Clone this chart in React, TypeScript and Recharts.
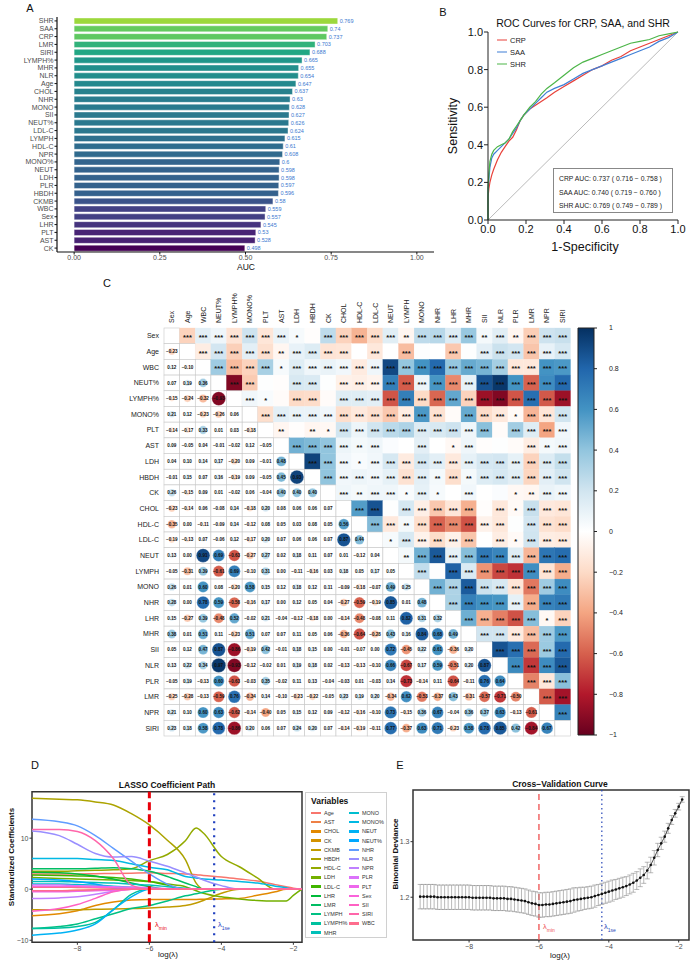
import React from 'react'
import {
  BarChart, Bar, Cell, LabelList, XAxis, YAxis, LineChart, Line, ReferenceLine,
  ReferenceArea, ScatterChart, Scatter, ComposedChart, ErrorBar,
} from 'recharts'

const FONT = '"Liberation Sans", Arial, Helvetica, sans-serif'
const MINUS = '\u2212'

// ---- A: single-marker AUC ----
const aucVars = ['SHR', 'SAA', 'CRP', 'LMR', 'SIRI', 'LYMPH%', 'MHR', 'NLR', 'Age', 'CHOL', 'NHR', 'MONO', 'SII', 'NEUT%', 'LDL-C', 'LYMPH', 'HDL-C', 'NPR', 'MONO%', 'NEUT', 'LDH', 'PLR', 'HBDH', 'CKMB', 'WBC', 'Sex', 'LHR', 'PLT', 'AST', 'CK']
const aucValues = [0.769, 0.74, 0.737, 0.703, 0.688, 0.665, 0.655, 0.654, 0.647, 0.637, 0.63, 0.628, 0.627, 0.626, 0.624, 0.615, 0.61, 0.608, 0.6, 0.598, 0.598, 0.597, 0.596, 0.58, 0.559, 0.557, 0.545, 0.53, 0.528, 0.498]
const aucTicks = [0, 0.25, 0.5, 0.75, 1]

// ---- B: ROC curves ----
const rocFpr = [0, 0, 0.005, 0.01, 0.02, 0.03, 0.05, 0.07, 0.09, 0.11, 0.13, 0.15, 0.17, 0.19, 0.22, 0.25, 0.28, 0.31, 0.35, 0.4, 0.45, 0.5, 0.55, 0.6, 0.65, 0.7, 0.75, 0.8, 0.85, 0.9, 0.95, 1]
const rocCRP = [0, 0.12, 0.17, 0.2, 0.24, 0.27, 0.32, 0.36, 0.39, 0.42, 0.44, 0.48, 0.53, 0.56, 0.59, 0.61, 0.63, 0.65, 0.68, 0.71, 0.74, 0.77, 0.8, 0.82, 0.85, 0.87, 0.9, 0.92, 0.94, 0.96, 0.98, 1]
const rocSAA = [0, 0.15, 0.22, 0.28, 0.33, 0.35, 0.37, 0.39, 0.41, 0.43, 0.46, 0.49, 0.53, 0.56, 0.59, 0.62, 0.65, 0.68, 0.7, 0.72, 0.75, 0.78, 0.8, 0.82, 0.84, 0.86, 0.88, 0.9, 0.92, 0.95, 0.97, 1]
const rocSHR = [0, 0.17, 0.25, 0.31, 0.35, 0.37, 0.39, 0.4, 0.41, 0.43, 0.47, 0.5, 0.53, 0.56, 0.6, 0.63, 0.67, 0.7, 0.73, 0.77, 0.81, 0.84, 0.86, 0.88, 0.9, 0.92, 0.94, 0.95, 0.96, 0.98, 0.99, 1]
const rocNames = ['CRP', 'SAA', 'SHR']
const rocColors = ['#e8413a', '#3f7fd6', '#4cb548']
const rocAucText = ['CRP AUC: 0.737 ( 0.716 \u2212 0.758 )', 'SAA AUC: 0.740 ( 0.719 \u2212 0.760 )', 'SHR AUC: 0.769 ( 0.749 \u2212 0.789 )']
const rocTicks = [0, 0.2, 0.4, 0.6, 0.8, 1]

// ---- C: correlation matrix (lower triangle, row by row) ----
const corrVars = ['Sex', 'Age', 'WBC', 'NEUT%', 'LYMPH%', 'MONO%', 'PLT', 'AST', 'LDH', 'HBDH', 'CK', 'CHOL', 'HDL-C', 'LDL-C', 'NEUT', 'LYMPH', 'MONO', 'NHR', 'LHR', 'MHR', 'SII', 'NLR', 'PLR', 'LMR', 'NPR', 'SIRI']
const corrRows = [
  [],
  [-0.23],
  [0.12, -0.10],
  [0.07, 0.19, 0.36],
  [-0.15, -0.24, -0.32, -0.93],
  [0.21, 0.12, -0.23, -0.26, 0.06],
  [-0.14, -0.17, 0.33, 0.01, 0.03, -0.18],
  [0.09, -0.05, 0.04, -0.01, -0.02, 0.12, -0.05],
  [0.04, 0.10, 0.14, 0.17, -0.20, 0.09, -0.01, 0.48],
  [-0.01, 0.15, 0.07, 0.16, -0.19, 0.09, -0.05, 0.45, 0.93],
  [0.26, -0.15, 0.09, 0.01, -0.02, 0.06, -0.04, 0.40, 0.40, 0.40],
  [-0.23, -0.14, 0.06, -0.08, 0.14, -0.18, 0.20, 0.08, 0.06, 0.06, 0.07],
  [-0.35, 0.00, -0.11, -0.09, 0.14, -0.12, 0.08, 0.05, 0.03, 0.08, 0.05, 0.56],
  [-0.19, -0.13, 0.07, -0.06, 0.12, -0.17, 0.20, 0.07, 0.06, 0.06, 0.07, 0.87, 0.44],
  [0.13, 0.00, 0.91, 0.69, -0.63, -0.27, 0.27, 0.02, 0.18, 0.11, 0.07, 0.01, -0.12, 0.04],
  [-0.05, -0.31, 0.39, -0.61, 0.69, -0.10, 0.31, 0.00, -0.11, -0.16, 0.03, 0.18, 0.05, 0.17, 0.05],
  [0.26, 0.01, 0.60, 0.08, -0.20, 0.58, 0.15, 0.12, 0.18, 0.12, 0.11, -0.09, -0.18, -0.07, 0.49, 0.25],
  [0.28, 0.00, 0.78, 0.59, -0.58, -0.16, 0.17, 0.00, 0.12, 0.05, 0.04, -0.27, -0.59, -0.19, 0.85, 0.01, 0.48],
  [0.15, -0.27, 0.39, -0.48, 0.52, -0.02, 0.21, -0.04, -0.12, -0.18, 0.00, -0.14, -0.48, -0.08, 0.11, 0.82, 0.31, 0.32],
  [0.38, 0.01, 0.51, 0.11, -0.23, 0.51, 0.07, 0.07, 0.11, 0.05, 0.06, -0.36, -0.64, -0.28, 0.43, 0.16, 0.84, 0.68, 0.49],
  [0.05, 0.12, 0.47, 0.87, -0.86, -0.19, 0.42, -0.01, 0.18, 0.15, 0.00, -0.01, -0.07, 0.00, 0.72, -0.45, 0.22, 0.61, -0.36, 0.20],
  [0.13, 0.22, 0.34, 0.97, -0.93, -0.12, -0.02, 0.01, 0.19, 0.18, 0.02, -0.13, -0.13, -0.10, 0.66, -0.67, 0.17, 0.59, -0.51, 0.20, 0.87],
  [-0.05, 0.19, -0.13, 0.60, -0.63, -0.03, 0.35, -0.02, 0.11, 0.13, -0.04, -0.03, 0.01, -0.03, 0.14, -0.73, -0.14, 0.11, -0.64, -0.11, 0.76, 0.64],
  [-0.25, -0.28, -0.13, -0.59, 0.76, -0.34, 0.14, -0.10, -0.23, -0.22, -0.05, 0.23, 0.19, 0.20, -0.34, 0.62, -0.53, -0.37, 0.43, -0.31, -0.57, -0.71, -0.50],
  [0.21, 0.10, 0.60, 0.63, -0.62, -0.14, -0.40, 0.05, 0.15, 0.12, 0.09, -0.12, -0.16, -0.10, 0.73, -0.15, 0.36, 0.67, -0.04, 0.36, 0.37, 0.63, -0.13, -0.61],
  [0.23, 0.18, 0.58, 0.78, -0.86, 0.20, 0.06, 0.07, 0.24, 0.20, 0.07, -0.14, -0.19, -0.11, 0.77, -0.37, 0.63, 0.71, -0.23, 0.58, 0.78, 0.85, 0.42, -0.84, 0.67],
]
const cbTicks = [1, 0.8, 0.6, 0.4, 0.2, 0, -0.2, -0.4, -0.6, -0.8, -1]

// ---- D: LASSO coefficient paths ----
const lassoVars = ['Age', 'AST', 'CHOL', 'CK', 'CKMB', 'HBDH', 'HDL-C', 'LDH', 'LDL-C', 'LHR', 'LMR', 'LYMPH', 'LYMPH%', 'MHR', 'MONO', 'MONO%', 'NEUT', 'NEUT%', 'NHR', 'NLR', 'NPR', 'PLR', 'PLT', 'Sex', 'SII', 'SIRI', 'WBC']
const lassoLambda = [-9.26, -8.5, -8, -7.5, -7, -6.5, -6, -5.5, -5, -4.7, -4.5, -4, -3.5, -3, -2.5, -2.2, -2, -1.76]
const lassoCoefs = [
  [3.0, 3.0, 3.0, 3.05, 3.1, 3.15, 3.2, 3.1, 3.0, 2.85, 2.7, 2.4, 2.0, 1.6, 0.9, 0.5, 0.2, 0],
  [0.4, 0.4, 0.35, 0.3, 0.2, 0.1, 0, 0, 0, 0, 0, 0, 0, 0, 0, 0, 0, 0],
  [-5.2, -4.8, -4.2, -3.2, -2.5, -2.1, -2.0, -2.0, -2.0, -2.0, -1.95, -1.9, -1.8, -1.2, -0.5, 0, 0, 0],
  [-0.3, -0.3, -0.25, -0.2, -0.1, 0, 0, 0, 0, 0, 0, 0, 0, 0, 0, 0, 0, 0],
  [-4.0, -4.0, -4.0, -3.95, -3.9, -3.8, -3.7, -3.5, -3.2, -2.7, -2.2, -0.8, 0, 0, 0, 0, 0, 0],
  [17.8, 17.6, 17.5, 17.1, 16.5, 14.8, 12.6, 9.6, 5.8, 1.2, 0, 0, 0, 0, 0, 0, 0, 0],
  [3.5, 3.5, 3.6, 3.7, 3.8, 4.0, 5.6, 6.8, 9.5, 12.0, 11.0, 6.4, 4.4, 2.2, 0, 0, 0, 0],
  [2.3, 2.1, 2.0, 1.9, 1.8, 1.7, 1.5, 1.0, 0.5, -0.3, -0.8, -1.5, -1.9, -2.2, -2.3, -2.3, -1.2, 0],
  [2.8, 2.7, 2.6, 2.5, 2.3, 2.0, 1.5, 0.8, 0, 0, 0, 0, 0, 0, 0, 0, 0, 0],
  [3.3, 3.2, 3.0, 2.6, 2.0, 1.2, 0.5, 0, 0, 0, 0, 0, 0, 0, 0, 0, 0, 0],
  [4.0, 4.0, 4.0, 4.1, 4.2, 4.0, 3.5, 2.5, 1.2, 0.5, 0, 0, 0, 0, 0, 0, 0, 0],
  [-7.7, -7.3, -6.8, -5.8, -4.8, -3.8, -3.2, -2.3, -1.3, -0.9, -0.6, 0, 0, 0, 0, 0, 0, 0],
  [-7.7, -7.6, -7.3, -6.5, -4.0, -1.0, 0, 0, 0, 0, 0, 0, 0, 0, 0, 0, 0, 0],
  [1.5, 1.5, 1.4, 1.3, 1.2, 1.0, 0.8, 0.5, 0.2, 0, 0, 0, 0, 0, 0, 0, 0, 0],
  [1.0, 1.0, 0.9, 0.8, 0.6, 0.4, 0.2, 0, 0, 0, 0, 0, 0, 0, 0, 0, 0, 0],
  [6.0, 6.0, 6.0, 5.8, 5.6, 5.0, 4.3, 3.8, 2.5, 2.2, 2.0, 1.8, 1.5, 1.2, 0.6, 0.3, 0, 0],
  [-9.0, -8.6, -8.0, -6.8, -4.0, -1.5, 0, 0, 0, 0, 0, 0, 0, 0, 0, 0, 0, 0],
  [2.0, 1.8, 1.5, 1.0, 0.3, 0, 0, 0, 0, 0, 0, 0, 0, 0, 0, 0, 0, 0],
  [13.7, 13.2, 12.4, 10.5, 8.0, 5.5, 3.0, 1.0, 0, 0, 0, 0, 0, 0, 0, 0, 0, 0],
  [11.4, 10.5, 8.8, 7.0, 6.3, 6.4, 5.5, 4.5, 3.2, 2.4, 1.8, 0.7, 0, 0, 0, 0, 0, 0],
  [-1.8, -1.7, -1.5, -1.0, -0.4, 0, 0, 0, 0, 0, 0, 0, 0, 0, 0, 0, 0, 0],
  [0.8, 0.8, 0.7, 0.6, 0.5, 0.4, 0.3, 0.1, 0, 0, 0, 0, 0, 0, 0, 0, 0, 0],
  [-0.5, -0.5, -0.4, -0.3, -0.2, 0, 0, 0, 0, 0, 0, 0, 0, 0, 0, 0, 0, 0],
  [0.5, 0.5, 0.5, 0.4, 0.3, 0.2, 0.1, 0, 0, 0, 0, 0, 0, 0, 0, 0, 0, 0],
  [-4.3, -3.8, -3.0, -1.8, -0.5, 0, 0, 0, 0, 0, 0, 0, 0, 0, 0, 0, 0, 0],
  [11.7, 11.7, 11.3, 9.5, 6.0, 0.8, 0, 0, 0, 0, 0, 0, 0, 0, 0, 0, 0, 0],
  [-0.3, -0.3, -0.2, -0.1, 0, 0, 0, 0, 0, 0, 0, 0, 0, 0, 0, 0, 0, 0],
]
const lambdaMin = -6
const lambda1se = -4.2

// ---- E: cross-validation deviance ----
const cvLambda = [-9.4, -9.3, -9.2, -9.1, -9.0, -8.9, -8.8, -8.7, -8.6, -8.5, -8.4, -8.3, -8.2, -8.1, -8.0, -7.9, -7.8, -7.7, -7.6, -7.5, -7.4, -7.3, -7.2, -7.1, -7.0, -6.9, -6.8, -6.7, -6.6, -6.5, -6.4, -6.3, -6.2, -6.1, -6.0, -5.9, -5.8, -5.7, -5.6, -5.5, -5.4, -5.3, -5.2, -5.1, -5.0, -4.9, -4.8, -4.7, -4.6, -4.5, -4.4, -4.3, -4.2, -4.1, -4.0, -3.9, -3.8, -3.7, -3.6, -3.5, -3.4, -3.3, -3.2, -3.1, -3.0, -2.9, -2.8, -2.7, -2.6, -2.5, -2.4, -2.3, -2.2, -2.1, -2.0, -1.9]
const cvDeviance = [
  1.201, 1.201, 1.201, 1.201, 1.201, 1.200, 1.200, 1.200, 1.200, 1.200, 1.200, 1.200, 1.200, 1.200, 1.200, 1.199, 1.199, 1.199, 1.199, 1.199, 1.199, 1.198, 1.198, 1.198, 1.198,
  1.197, 1.197, 1.196, 1.195, 1.194, 1.193, 1.191, 1.189, 1.188, 1.186,
  1.186, 1.187, 1.187, 1.188, 1.189, 1.190, 1.191, 1.192, 1.193, 1.195,
  1.196, 1.197, 1.198, 1.199, 1.200, 1.202, 1.204, 1.206, 1.208, 1.210,
  1.212, 1.214, 1.216, 1.218, 1.220, 1.223, 1.226, 1.230, 1.235, 1.240,
  1.248, 1.258, 1.271, 1.285, 1.297, 1.309, 1.324, 1.339, 1.351, 1.363, 1.376,
]
const cvSe = [
  0.022, 0.022, 0.022, 0.022, 0.022, 0.022, 0.022, 0.022, 0.022, 0.022, 0.022, 0.022, 0.022, 0.022, 0.022, 0.022, 0.022, 0.022, 0.022, 0.022, 0.022, 0.022, 0.022, 0.022, 0.022,
  0.022, 0.022, 0.022, 0.022, 0.022, 0.022, 0.022, 0.022, 0.022, 0.022,
  0.022, 0.022, 0.022, 0.022, 0.022, 0.022, 0.022, 0.022, 0.022, 0.022,
  0.021, 0.021, 0.020, 0.020, 0.020, 0.020, 0.019, 0.019, 0.019, 0.019,
  0.019, 0.018, 0.018, 0.018, 0.017, 0.017, 0.017, 0.016, 0.016, 0.015,
  0.015, 0.014, 0.013, 0.012, 0.011, 0.010, 0.009, 0.008, 0.007, 0.006, 0.005,
]

// ---- colour helpers ----
const VIRIDIS = ['#440154', '#482475', '#414487', '#355f8d', '#2a788e', '#21918c', '#22a884', '#44bf70', '#7ad151', '#bddf26', '#fde725']
const RDBU = ['#67001f', '#b2182b', '#d6604d', '#f4a582', '#fddbc7', '#ffffff', '#d1e5f0', '#92c5de', '#4393c3', '#2166ac', '#053061']

const hexRgb = (h: string) => [1, 3, 5].map(i => parseInt(h.slice(i, i + 2), 16))
const toHex = (c: number[]) => '#' + c.map(v => Math.round(Math.max(0, Math.min(255, v))).toString(16).padStart(2, '0')).join('')

function ramp(stops: string[], t: number) {
  const tt = Math.max(0, Math.min(1, t)) * (stops.length - 1)
  const i = Math.min(Math.floor(tt), stops.length - 2)
  const f = tt - i
  const a = hexRgb(stops[i]), b = hexRgb(stops[i + 1])
  return toHex(a.map((v, k) => v + (b[k] - v) * f))
}

const corrColor = (r: number) => ramp(RDBU, (r + 1) / 2)

// ggplot-style hue palette (HCL, c = 100, l = 65)
function hcl(h: number, c = 100, l = 65) {
  const hr = (h * Math.PI) / 180
  const U = c * Math.cos(hr), V = c * Math.sin(hr)
  const Y = Math.pow((l + 16) / 116, 3)
  const un = 0.19784, vn = 0.46834
  const u = U / (13 * l) + un, v = V / (13 * l) + vn
  const X = (Y * 9 * u) / (4 * v)
  const Z = (Y * (12 - 3 * u - 20 * v)) / (4 * v)
  const lin = [
    3.2404542 * X - 1.5371385 * Y - 0.4985314 * Z,
    -0.969266 * X + 1.8760108 * Y + 0.041556 * Z,
    0.0556434 * X - 0.2040259 * Y + 1.0572252 * Z,
  ]
  const g = lin.map(x => (x <= 0.0031308 ? 12.92 * x : 1.055 * Math.pow(Math.max(x, 0), 1 / 2.4) - 0.055))
  return toHex(g.map(x => x * 255))
}
const lassoColors = lassoVars.map((_, i) => hcl(15 + (360 * i) / lassoVars.length))

const signed = (v: number, d?: number) => (v < 0 ? MINUS : '') + (d == null ? String(Math.abs(v)) : Math.abs(v).toFixed(d))

function starsFor(r: number) {
  const a = Math.abs(r)
  if (a >= 0.06) return '***'
  if (a >= 0.045) return '**'
  if (a >= 0.03) return '*'
  return ''
}

// ---- derived tables ----
const aucData = aucVars.map((name, i) => ({ name, auc: aucValues[i] }))
const aucMin = Math.min(...aucValues)
const aucMax = Math.max(...aucValues)
const rocSeries = [rocCRP, rocSAA, rocSHR].map((tpr, s) => ({
  name: rocNames[s], color: rocColors[s], data: rocFpr.map((fpr, i) => ({ fpr, tpr: tpr[i] })),
}))
const corrValue = (i: number, j: number) => (i === j ? 1 : i > j ? corrRows[i][j] : corrRows[j][i])
const corrCells: any[] = []
corrVars.forEach((_, i) => corrVars.forEach((__, j) => {
  corrCells.push({ x: j, y: i, r: corrValue(i, j), part: i === j ? 'diag' : j > i ? 'upper' : 'lower' })
}))
const corrIdx = corrVars.map((_, i) => i)
const lassoData = lassoLambda.map((x, k) => {
  const row: any = { x }
  lassoVars.forEach((v, vi) => { row[v] = lassoCoefs[vi][k] })
  return row
})
const cvData = cvLambda.map((x, i) => ({ x, dev: cvDeviance[i], se: cvSe[i] }))

// ---- small layout helpers ----
function Txt({ x, y, size, children, bold, color = '#111', rotate, anchor = 'middle' }: any) {
  const tx = anchor === 'middle' ? '-50%' : anchor === 'end' ? '-100%' : '0'
  return (
    <div style={{
      position: 'absolute', left: x, top: y, whiteSpace: 'nowrap', fontSize: size, lineHeight: 1,
      fontWeight: bold ? 'bold' : 'normal', color,
      transform: `translate(${tx}, -50%)${rotate ? ` rotate(${rotate}deg)` : ''}`,
      transformOrigin: rotate ? '50% 50%' : undefined,
    }}>{children}</div>
  )
}

const Abs = ({ x, y, children }: any) => <div style={{ position: 'absolute', left: x, top: y }}>{children}</div>

const Lambda = ({ x, y, sub, color }: any) => (
  <div style={{ position: 'absolute', left: x, top: y, color, fontSize: 7.5, lineHeight: 1, whiteSpace: 'nowrap' }}>
    λ<sub style={{ fontSize: 5, verticalAlign: 'sub' }}>{sub}</sub>
  </div>
)

// ---- panels ----
function AucBars() {
  return (
    <BarChart width={440} height={275} data={aucData} layout="vertical" margin={{ top: 17, right: 6, bottom: 8, left: 0 }}>
      <XAxis type="number" domain={[-0.05, 1.05]} ticks={aucTicks} tickFormatter={(v: number) => v.toFixed(2)} height={15}
        tick={{ fontSize: 7, fill: '#4d4d4d' }} tickSize={2.5} tickMargin={1}
        axisLine={{ stroke: '#111', strokeWidth: 1.2 }} tickLine={{ stroke: '#111' }} />
      <YAxis type="category" dataKey="name" width={57} interval={0} tick={{ fontSize: 7, fill: '#4d4d4d' }} tickSize={2.5} tickMargin={1}
        axisLine={{ stroke: '#111', strokeWidth: 1.2 }} tickLine={{ stroke: '#111' }} />
      <Bar dataKey="auc" barSize={6} isAnimationActive={false} stroke="#fff" strokeWidth={0.4}>
        {aucData.map((d, i) => (
          <Cell key={i} fill={ramp(VIRIDIS, ((d.auc - aucMin) / (aucMax - aucMin)) * 0.85)} />
        ))}
        <LabelList dataKey="auc" position="right" offset={2} fontSize={5.5} fill="#3b78d0" />
      </Bar>
    </BarChart>
  )
}

function RocCurves() {
  return (
    <LineChart width={251} height={260} margin={{ top: 32, right: 13, bottom: 12, left: 8 }}>
      <XAxis type="number" dataKey="fpr" domain={[0, 1]} ticks={rocTicks} tickFormatter={(v: number) => v.toFixed(1)}
        height={28} allowDuplicatedCategory={false} tick={{ fontSize: 11, fill: '#111' }} tickSize={4} tickMargin={1}
        axisLine={{ stroke: '#222' }} tickLine={{ stroke: '#222' }} />
      <YAxis type="number" dataKey="tpr" domain={[0, 1]} ticks={rocTicks} tickFormatter={(v: number) => v.toFixed(1)}
        width={40} tick={{ fontSize: 11, fill: '#111' }} tickSize={4} tickMargin={1}
        axisLine={{ stroke: '#222' }} tickLine={{ stroke: '#222' }} />
      <ReferenceLine segment={[{ x: 0, y: 0 }, { x: 1, y: 1 }]} stroke="#a8a8a8" strokeWidth={0.8} />
      {rocSeries.map(s => (
        <Line key={s.name} data={s.data} dataKey="tpr" name={s.name} type="linear" stroke={s.color}
          strokeWidth={1.2} dot={false} isAnimationActive={false} />
      ))}
    </LineChart>
  )
}

const CELL_W = 406.5 / 26
const CELL_H = 408 / 26

function CorrCell(props: any) {
  const { cx, cy, payload } = props
  if (cx == null || cy == null) return null
  const { r, part } = payload
  const x = cx - CELL_W / 2
  const y = cy - CELL_H / 2
  if (part === 'upper') {
    const stars = starsFor(r)
    const fill = corrColor(r)
    return (
      <g>
        <rect x={x} y={y} width={CELL_W} height={CELL_H} fill={fill} stroke={fill} strokeWidth={0.3} />
        {stars && (
          <text x={cx} y={cy + 4.2} textAnchor="middle" fontSize={7.5} fontWeight="bold" fill="#111">{stars}</text>
        )}
      </g>
    )
  }
  if (part === 'diag') {
    return <rect x={x} y={y} width={CELL_W} height={CELL_H} fill="#fff" stroke="#c8c8c8" strokeWidth={0.6} />
  }
  return (
    <g>
      <rect x={x} y={y} width={CELL_W} height={CELL_H} fill="#fff" stroke="#c8c8c8" strokeWidth={0.6} />
      <circle cx={cx} cy={cy} r={Math.sqrt(Math.abs(r)) * 7.2} fill={corrColor(r)} stroke="#fff" strokeWidth={0.3} />
      <text x={cx} y={cy} dy="0.35em" textAnchor="middle" fontSize={4.6} fontWeight="bold" fill="#111">{signed(r, 2)}</text>
    </g>
  )
}

const ColumnTick = ({ x, y, payload }: any) => (
  <text x={x} y={y} transform={`rotate(-90 ${x} ${y})`} dy="0.35em" textAnchor="start" fontSize={7} fill="#222">
    {corrVars[payload.value]}
  </text>
)

function CorrMatrix() {
  return (
    <ScatterChart width={540} height={465} margin={{ top: 3, right: 69.5, bottom: 9, left: 14 }}>
      <XAxis type="number" dataKey="x" orientation="top" domain={[-0.5, 25.5]} ticks={corrIdx} interval={0} height={45}
        axisLine={false} tickLine={false} tickSize={3} tick={<ColumnTick />} />
      <YAxis type="number" dataKey="y" reversed domain={[-0.5, 25.5]} ticks={corrIdx} interval={0} width={50}
        axisLine={false} tickLine={false} tickSize={3} tickMargin={2}
        tick={{ fontSize: 7, fill: '#222' }} tickFormatter={(i: number) => corrVars[i]} />
      <Scatter data={corrCells} shape={(p: any) => <CorrCell {...p} />} isAnimationActive={false} />
    </ScatterChart>
  )
}

function ColorBar() {
  return (
    <ComposedChart width={70} height={435} data={cbTicks.map(v => ({ x: 0.5, v }))} margin={{ top: 13, right: 6, bottom: 15, left: 8 }}>
      <XAxis type="number" dataKey="x" domain={[0, 1]} hide />
      <YAxis type="number" dataKey="v" orientation="right" domain={[-1, 1]} ticks={cbTicks} interval={0} width={40}
        axisLine={false} tickLine={{ stroke: '#222' }} tickSize={3} tickMargin={12}
        tick={{ fontSize: 7, fill: '#222' }} tickFormatter={(v: number) => signed(v)} />
      <ReferenceArea x1={0} x2={1} y1={-1} y2={1} fill="url(#corrBar)" fillOpacity={1} stroke="#222" strokeWidth={1} ifOverflow="visible" />
    </ComposedChart>
  )
}

function LassoPaths() {
  return (
    <LineChart width={305} height={192} data={lassoData} margin={{ top: 21.7, right: 3, bottom: 7.7, left: 12 }}>
      <XAxis type="number" dataKey="x" domain={[-9.26, -1.76]} ticks={[-8, -6, -4, -2]} allowDataOverflow height={12}
        axisLine={false} tickLine={{ stroke: '#333' }} tickSize={2.5} tickMargin={1}
        tick={{ fontSize: 7, fill: '#4d4d4d' }} tickFormatter={(v: number) => signed(v)} />
      <YAxis type="number" domain={[-10.4, 19.1]} ticks={[-10, 0, 10]} allowDataOverflow width={20}
        axisLine={false} tickLine={{ stroke: '#333' }} tickSize={2.5} tickMargin={1}
        tick={{ fontSize: 7, fill: '#4d4d4d' }} tickFormatter={(v: number) => signed(v)} />
      {lassoVars.map((v, i) => (
        <Line key={v} dataKey={v} type="monotone" stroke={lassoColors[i]} strokeWidth={1.5} dot={false} isAnimationActive={false} />
      ))}
      <ReferenceLine x={lambdaMin} stroke="#e8000b" strokeWidth={3} strokeDasharray="8 4" />
      <ReferenceLine x={lambda1se} stroke="#1f3fbf" strokeWidth={2.2} strokeDasharray="2 5" />
      <ReferenceArea x1={-9.26} x2={-1.76} y1={-10.4} y2={19.1} fill="none" stroke="#333" strokeWidth={1.5} ifOverflow="visible" />
    </LineChart>
  )
}

function CvCurve() {
  return (
    <ComposedChart width={296} height={192} data={cvData} margin={{ top: 20, right: 2, bottom: 8, left: 4 }}>
      <XAxis type="number" dataKey="x" domain={[-9.605, -1.705]} ticks={[-8, -6, -4, -2]} allowDataOverflow height={14}
        axisLine={false} tickLine={{ stroke: '#333' }} tickSize={2.5} tickMargin={2}
        tick={{ fontSize: 7, fill: '#4d4d4d' }} tickFormatter={(v: number) => signed(v)} />
      <YAxis type="number" domain={[1.123, 1.393]} ticks={[1.2, 1.3]} allowDataOverflow width={14}
        axisLine={false} tickLine={{ stroke: '#333' }} tickSize={2.5} tickMargin={1}
        tick={{ fontSize: 7, fill: '#4d4d4d' }} tickFormatter={(v: number) => v.toFixed(1)} />
      <ReferenceLine x={lambdaMin} stroke="#ef4f4f" strokeWidth={1.3} strokeDasharray="6 4" />
      <ReferenceLine x={lambda1se} stroke="#2747b8" strokeWidth={1.2} strokeDasharray="1.5 3" />
      <Line dataKey="dev" type="linear" stroke="#222" strokeWidth={0.8} isAnimationActive={false}
        dot={{ r: 1.3, fill: '#111', stroke: 'none' }}>
        <ErrorBar dataKey="se" direction="y" width={2.5} stroke="#8a8a8a" strokeWidth={0.6} />
      </Line>
      <ReferenceArea x1={-9.605} x2={-1.705} y1={1.123} y2={1.393} fill="none" stroke="#333" strokeWidth={1.5} ifOverflow="visible" />
    </ComposedChart>
  )
}

function LassoLegend() {
  const rows = Math.ceil(lassoVars.length / 2)
  return (
    <div style={{ position: 'absolute', left: 305, top: 792, width: 82, height: 146, border: '1px solid #d0d0d0', boxSizing: 'border-box' }}>
      <div style={{ position: 'absolute', left: 5, top: 3, fontSize: 8.5, fontWeight: 'bold', color: '#111' }}>Variables</div>
      {lassoVars.map((v, i) => {
        const col = i < rows ? 0 : 1
        const row = i < rows ? i : i - rows
        return (
          <div key={v} style={{ position: 'absolute', left: 5 + col * 38, top: 17 + row * 9.2, display: 'flex', alignItems: 'center', whiteSpace: 'nowrap' }}>
            <div style={{ width: 10, height: 2.5, background: lassoColors[i] }} />
            <span style={{ marginLeft: 3, fontSize: 5.5, color: '#333' }}>{v}</span>
          </div>
        )
      })}
    </div>
  )
}

export default function App() {
  return (
    <div style={{ position: 'absolute', left: 0, top: 0, width: 691, height: 962, background: '#fff', fontFamily: FONT, overflow: 'hidden' }}>
      <svg width={0} height={0} style={{ position: 'absolute' }}>
        <defs>
          <linearGradient id="corrBar" x1="0" y1="1" x2="0" y2="0">
            {RDBU.map((c, i) => <stop key={i} offset={i / (RDBU.length - 1)} stopColor={c} />)}
          </linearGradient>
        </defs>
      </svg>

      {/* A */}
      <Abs x={0} y={0}><AucBars /></Abs>
      <Txt x={30} y={8} size={11}>A</Txt>
      <Txt x={246} y={267} size={8.5}>AUC</Txt>

      {/* B */}
      <Abs x={440} y={0}><RocCurves /></Abs>
      <Txt x={443} y={12} size={11}>B</Txt>
      <Txt x={583} y={23} size={10.5}>ROC Curves for CRP, SAA, and SHR</Txt>
      <Txt x={453} y={126} size={12.5} rotate={-90}>Sensitivity</Txt>
      <Txt x={585} y={247} size={12.5}>1-Specificity</Txt>
      {rocSeries.map((s, i) => (
        <div key={s.name} style={{ position: 'absolute', left: 497, top: 40 + i * 12, display: 'flex', alignItems: 'center', transform: 'translateY(-50%)' }}>
          <div style={{ width: 10, height: 1.2, background: s.color }} />
          <span style={{ marginLeft: 3, fontSize: 7.5, color: '#222' }}>{s.name}</span>
        </div>
      ))}
      <div style={{ position: 'absolute', left: 553, top: 168, width: 120, height: 45, border: '0.8px solid #888', boxSizing: 'border-box' }}>
        {rocAucText.map((t, i) => (
          <div key={i} style={{ position: 'absolute', left: 5, top: 6 + i * 13.5, fontSize: 6.8, color: '#222', whiteSpace: 'nowrap' }}>{t}</div>
        ))}
      </div>

      {/* C */}
      <Abs x={100} y={280}><CorrMatrix /></Abs>
      <Abs x={570} y={315}><ColorBar /></Abs>
      <Txt x={107} y={283} size={11}>C</Txt>

      {/* D */}
      <Abs x={0} y={770}><LassoPaths /></Abs>
      <Txt x={35} y={765} size={11}>D</Txt>
      <Txt x={167} y={785} size={8.5} bold>LASSO Coefficient Path</Txt>
      <Txt x={12} y={857} size={8} bold rotate={-90}>Standardized Coefficients</Txt>
      <Txt x={168} y={955} size={8}>log(λ)</Txt>
      <Lambda x={155} y={921} sub="min" color="#e8000b" />
      <Lambda x={218} y={921} sub="1se" color="#1f3fbf" />
      <LassoLegend />

      {/* E */}
      <Abs x={395} y={770}><CvCurve /></Abs>
      <Txt x={400} y={765} size={11}>E</Txt>
      <Txt x={560} y={784} size={8.5} bold>Cross{MINUS}Validation Curve</Txt>
      <Txt x={396} y={854} size={8} bold rotate={-90}>Binomial Deviance</Txt>
      <Txt x={560} y={956} size={8}>log(λ)</Txt>
      <Lambda x={543} y={923} sub="min" color="#ef4f4f" />
      <Lambda x={604} y={923} sub="1se" color="#2747b8" />
    </div>
  )
}
